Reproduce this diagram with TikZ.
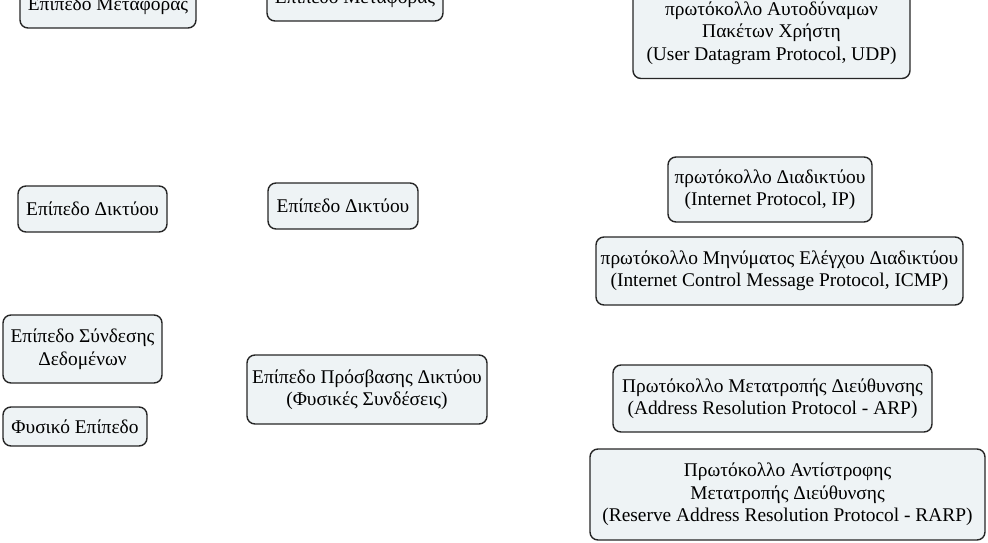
\documentclass[tikz,border=0pt]{standalone}
\usepackage{fontspec}
\setmainfont{Liberation Serif}
\usepackage{xcolor}
\usepackage{tikz}
\definecolor{boxfill}{HTML}{EEF3F5}
\definecolor{boxline}{HTML}{262626}

\begin{document}
\begin{tikzpicture}[x=1pt,y=-1pt,
  layer/.style={draw=boxline,fill=boxfill,line width=1.4pt,rounded corners=8pt,
    align=center,inner sep=0pt,font=\fontsize{19.4}{22.5}\selectfont}]
  \useasboundingbox (0,0) rectangle (988,543);
  % OSI
  \node[layer,minimum width=176pt,minimum height=45pt] (T) at (108,5.5) {Επίπεδο Μεταφοράς};
  \node[layer,minimum width=149pt,minimum height=46pt] (N) at (92.5,209) {Επίπεδο Δικτύου};
  \node[layer,minimum width=159pt,minimum height=68pt] (D) at (82.5,349) {Επίπεδο Σύνδεσης\\Δεδομένων};
  \node[layer,minimum width=144pt,minimum height=39pt] (P) at (75,426.5) {Φυσικό Επίπεδο};
  % TCP/IP
  \node[layer,minimum width=176pt,minimum height=45pt] (T') at (355,-1.5) {Επίπεδο Μεταφοράς};
  \node[layer,minimum width=150pt,minimum height=46pt] (N') at (343,206) {Επίπεδο Δικτύου};
  \node[layer,minimum width=240pt,minimum height=69pt] (A') at (367,389.5) {Επίπεδο Πρόσβασης Δικτύου\\(Φυσικές Συνδέσεις)};
  % protocols
  \node[layer,minimum width=277pt,minimum height=91pt] (UDP) at (771.5,33) {πρωτόκολλο Αυτοδύναμων\\Πακέτων Χρήστη\\(User Datagram Protocol, UDP)};
  \node[layer,minimum width=204pt,minimum height=65pt] (IP) at (770,189.5) {πρωτόκολλο Διαδικτύου\\ (Internet Protocol, IP)};
  \node[layer,minimum width=367pt,minimum height=68pt] (ICMP) at (779.5,271) {πρωτόκολλο Μηνύματος Ελέγχου Διαδικτύου\\(Internet Control Message Protocol, ICMP)};
  \node[layer,minimum width=319pt,minimum height=67pt] (ARP) at (772.5,398.5) {Πρωτόκολλο Μετατροπής Διεύθυνσης\\(Address Resolution Protocol - ARP)};
  \node[layer,minimum width=395pt,minimum height=91pt] (RARP) at (787.5,494.5) {Πρωτόκολλο Αντίστροφης\\Μετατροπής Διεύθυνσης\\(Reserve Address Resolution Protocol - RARP)};
\end{tikzpicture}
\end{document}
